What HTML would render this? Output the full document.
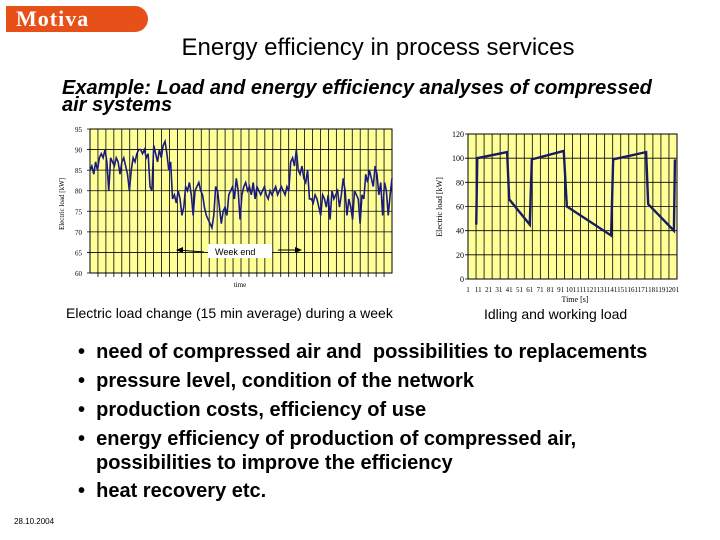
<!DOCTYPE html>
<html><head><meta charset="utf-8"><style>
body{margin:0;width:720px;height:540px;background:#fff;overflow:hidden;position:relative;font-family:"Liberation Sans",sans-serif}
.a{position:absolute;white-space:nowrap}
</style></head><body>
<div class="a" style="left:6px;top:6px;width:142px;height:26px;background:#e8501a;border-radius:0 13px 13px 0;color:#fff;font-family:'Liberation Serif',serif;font-weight:bold;font-size:22px;line-height:26px;padding-left:10px;box-sizing:border-box;letter-spacing:1px">Motiva</div>
<div class="a" style="left:0;width:756px;text-align:center;top:34px;font-size:24px;line-height:28px">Energy efficiency in process services</div>
<div class="a" style="left:62px;top:80px;font-size:20px;font-weight:bold;font-style:italic;line-height:17px">Example: Load and energy efficiency analyses of compressed<br>air systems</div>
<svg class="a" style="left:0;top:0" width="720" height="540" id="s">
<g id="left"></g>
<g id="right"></g>
</svg>
<div class="a" style="left:66px;top:305px;font-size:14px">Electric load change (15 min average) during a week</div>
<div class="a" style="left:484px;top:306px;font-size:14px">Idling and working load</div>
<div class="a" style="left:78px;top:338px;font-size:20px;font-weight:bold;line-height:29px">
<div>•&nbsp; need of compressed air and&nbsp; possibilities to replacements</div>
<div>•&nbsp; pressure level, condition of the network</div>
<div>•&nbsp; production costs, efficiency of use</div>
<div style="line-height:24px;margin-top:2px">•&nbsp; energy efficiency of production of compressed air,<br><span style="padding-left:18px">possibilities to improve the efficiency</span></div>
<div style="margin-top:2px">•&nbsp; heat recovery etc.</div>
</div>
<div class="a" style="left:14px;top:517px;font-size:8px">28.10.2004</div>
<script>
const weekLoad=[85,86,84,87,85,88,89,88,90,87,80,88,87,86,88,87,84,87,88,86,84,80,85,88,87,89,90,90,89,90,88,89,81,80,91,89,87,90,88,91,92,89,85,87,78,79,77,80,78,74,76,81,80,82,79,74,80,81,82,80,79,76,74,73,72,71,74,81,80,76,72,75,76,74,79,80,81,78,83,80,73,79,81,82,80,81,79,82,78,81,80,79,80,81,79,78,80,79,80,81,79,80,81,80,79,81,80,87,88,86,90,85,84,86,83,82,85,78,78,77,79,78,76,74,79,78,76,79,73,80,78,79,80,76,79,83,80,74,78,76,73,80,79,78,72,79,78,84,82,85,83,81,86,84,79,82,74,82,80,74,79,83];
const leftTicks=[60,65,70,75,80,85,90,95];
const idleT=[9,10,39,41,61,63,94,97,140,142,174,176,201,202];
const idleLoad=[45,100,105,66,45,99,106,60,36,99,105,62,40,99];
const rightTicks=[0,20,40,60,80,100,120];
const rightXLabels=['1','11','21','31','41','51','61','71','81','91','101','111','121','131','141','151','161','171','181','191','201'];
const NS='http://www.w3.org/2000/svg';
function mk(p,t,a){const e=document.createElementNS(NS,t);for(const k in a)e.setAttribute(k,a[k]);p.appendChild(e);return e;}
const L=document.getElementById('left');
const lx0=90,lx1=392,ly0=129,ly1=273;
const ly=v=>ly1-(v-60)/35*(ly1-ly0);
const lx=i=>lx0+i/(weekLoad.length-1)*(lx1-lx0);
let r=mk(L,'rect',{x:lx0,y:ly0,width:lx1-lx0,height:ly1-ly0,fill:'#ffff99',stroke:'#000','stroke-width':1});

for(let k=1;k<38;k++){const x=lx0+k*(lx1-lx0)/38;mk(L,'line',{x1:x,x2:x,y1:ly0,y2:ly1+4,stroke:'#000','stroke-width':0.8});}
leftTicks.forEach(v=>{mk(L,'line',{x1:lx0-3,x2:lx1,y1:ly(v),y2:ly(v),stroke:'#000','stroke-width':0.8});
const t=mk(L,'text',{x:lx0-8,y:ly(v)+3,'font-size':7,'text-anchor':'end','font-family':'Liberation Serif'});t.textContent=v;
});
let p=mk(L,'polyline',{points:weekLoad.map((v,i)=>lx(i)+','+ly(v)).join(' '),fill:'none',stroke:'#1a1a80','stroke-width':1.6});

mk(L,'rect',{x:208,y:244,width:64,height:14,fill:'#fff'});
let w=mk(L,'text',{x:215,y:255,'font-size':9});w.textContent='Week end';

mk(L,'line',{x1:178,x2:204,y1:250,y2:252,stroke:'#000'});mk(L,'polygon',{points:'176,250 183,247 183,253',fill:'#000'});
mk(L,'line',{x1:278,x2:298,y1:250,y2:250,stroke:'#000'});mk(L,'polygon',{points:'302,250 295,247 295,253',fill:'#000'});
let yt=mk(L,'text',{x:0,y:0,'font-size':7,'font-family':'Liberation Serif',transform:'translate(64,204) rotate(-90)','text-anchor':'middle'});yt.textContent='Electric load [kW]';

let xt=mk(L,'text',{x:240,y:287,'font-size':7,'font-family':'Liberation Serif','text-anchor':'middle'});xt.textContent='time';

const R=document.getElementById('right');
const rx0=468,rx1=677,ry0=134,ry1=279;
const ry=v=>ry1-v/120*(ry1-ry0);
const rx=t=>rx0+(t-1)/203*(rx1-rx0);
r=mk(R,'rect',{x:rx0,y:ry0,width:rx1-rx0,height:ry1-ry0,fill:'#ffff99',stroke:'#000','stroke-width':1});

for(let k=1;k<26;k++){const x=rx0+k*(rx1-rx0)/26;mk(R,'line',{x1:x,x2:x,y1:ry0,y2:ry1,stroke:'#000','stroke-width':0.8});}
rightTicks.forEach(v=>{mk(R,'line',{x1:rx0-3,x2:rx1,y1:ry(v),y2:ry(v),stroke:'#000','stroke-width':0.8});
const t=mk(R,'text',{x:rx0-4,y:ry(v)+3,'font-size':8,'text-anchor':'end','font-family':'Liberation Serif'});t.textContent=v;
});
rightXLabels.forEach(s=>{const t=mk(R,'text',{x:rx(+s),y:292,'font-size':7,'text-anchor':'middle','font-family':'Liberation Serif'});t.textContent=s;
});
p=mk(R,'polyline',{points:idleT.map((t,i)=>rx(t)+','+ry(idleLoad[i])).join(' '),fill:'none',stroke:'#1a1a60','stroke-width':2.4});

yt=mk(R,'text',{x:0,y:0,'font-size':8,'font-family':'Liberation Serif',transform:'translate(442,207) rotate(-90)','text-anchor':'middle'});yt.textContent='Electric load [kW]';

xt=mk(R,'text',{x:575,y:302,'font-size':8,'font-family':'Liberation Serif','text-anchor':'middle'});xt.textContent='Time [s]';

</script>
</body></html>
